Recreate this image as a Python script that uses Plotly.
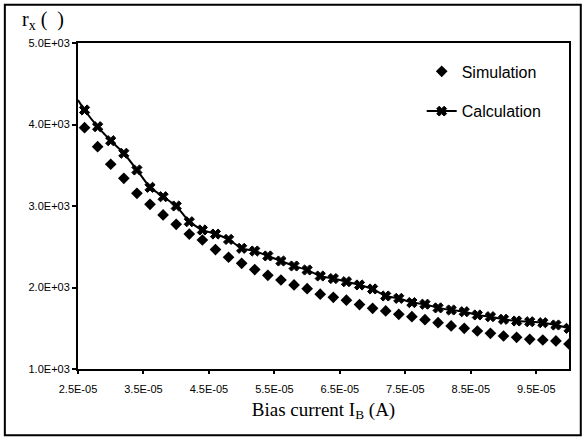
import plotly.graph_objects as go

# Bias current (A)
x_sim = [2.6e-5, 2.8e-5, 3.0e-5, 3.2e-5, 3.4e-5, 3.6e-5, 3.8e-5, 4.0e-5, 4.2e-5, 4.4e-5,
         4.6e-5, 4.8e-5, 5.0e-5, 5.2e-5, 5.4e-5, 5.6e-5, 5.8e-5, 6.0e-5, 6.2e-5, 6.4e-5,
         6.6e-5, 6.8e-5, 7.0e-5, 7.2e-5, 7.4e-5, 7.6e-5, 7.8e-5, 8.0e-5, 8.2e-5, 8.4e-5,
         8.6e-5, 8.8e-5, 9.0e-5, 9.2e-5, 9.4e-5, 9.6e-5, 9.8e-5, 1.0e-4]
sim = [3961, 3728, 3512, 3340, 3156, 3021, 2890, 2775, 2656, 2583,
       2465, 2371, 2297, 2220, 2150, 2092, 2031, 1985, 1918, 1880,
       1845, 1790, 1745, 1712, 1671, 1642, 1605, 1568, 1528, 1499,
       1466, 1438, 1405, 1389, 1364, 1356, 1344, 1307]

x_calc = [2.5e-5, 2.6e-5, 2.8e-5, 3.0e-5, 3.2e-5, 3.4e-5, 3.6e-5, 3.8e-5, 4.0e-5, 4.2e-5, 4.4e-5,
          4.6e-5, 4.8e-5, 5.0e-5, 5.2e-5, 5.4e-5, 5.6e-5, 5.8e-5, 6.0e-5, 6.2e-5, 6.4e-5,
          6.6e-5, 6.8e-5, 7.0e-5, 7.2e-5, 7.4e-5, 7.6e-5, 7.8e-5, 8.0e-5, 8.2e-5, 8.4e-5,
          8.6e-5, 8.8e-5, 9.0e-5, 9.2e-5, 9.4e-5, 9.6e-5, 9.8e-5, 1.0e-4]
calc = [4300, 4178, 3973, 3801, 3647, 3442, 3229, 3114, 3000, 2807, 2706,
        2656, 2590, 2481, 2448, 2387, 2325, 2264, 2215, 2141, 2110,
        2071, 2031, 1982, 1896, 1867, 1815, 1795, 1750, 1724, 1703,
        1663, 1642, 1610, 1589, 1580, 1568, 1540, 1499]

x_tickvals = [2.5e-5, 3.5e-5, 4.5e-5, 5.5e-5, 6.5e-5, 7.5e-5, 8.5e-5, 9.5e-5]
x_ticktext = ["2.5E-05", "3.5E-05", "4.5E-05", "5.5E-05", "6.5E-05", "7.5E-05", "8.5E-05", "9.5E-05"]
y_tickvals = [1000, 2000, 3000, 4000, 5000]
y_ticktext = ["1.0E+03", "2.0E+03", "3.0E+03", "4.0E+03", "5.0E+03"]

calc_marker_sizes = [0] + [9] * (len(calc) - 1)

fig = go.Figure()
fig.add_trace(go.Scatter(
    x=x_sim, y=sim, mode="markers", name="Simulation",
    legendgroup="a",
    marker=dict(symbol="diamond", size=9, color="black", opacity=1),
))
fig.add_trace(go.Scatter(
    x=x_calc, y=calc, mode="lines+markers", name="Calculation",
    legendgroup="b",
    line=dict(color="black", width=2, shape="spline", smoothing=0.5),
    marker=dict(symbol="x", size=calc_marker_sizes, color="black", opacity=1,
                line=dict(color="black", width=1)),
))

axis_font = dict(family="Liberation Sans, Arial, sans-serif", size=11, color="black")

fig.update_xaxes(
    range=[2.5e-5, 1.0e-4], tickvals=x_tickvals, ticktext=x_ticktext,
    showline=True, linecolor="black", linewidth=2, mirror=True,
    ticks="outside", ticklen=3, tickwidth=1.5, tickcolor="black",
    tickfont=axis_font, showgrid=False, zeroline=False,
    ticklabelstandoff=6,
    title=dict(text="Bias current I<sub>B</sub> (A)",
               font=dict(family="Liberation Serif, Times New Roman, serif", size=19, color="black"),
               standoff=8),
)
fig.update_yaxes(
    range=[1000, 5000], tickvals=y_tickvals, ticktext=y_ticktext,
    showline=True, linecolor="black", linewidth=2, mirror=True,
    ticks="outside", ticklen=4, tickwidth=1.5, tickcolor="black",
    tickfont=axis_font, showgrid=False, zeroline=False,
)

fig.add_annotation(
    xref="paper", yref="paper", x=-0.118, y=1.025, xanchor="left", yanchor="bottom",
    text="r<sub>x</sub> (  )", showarrow=False,
    font=dict(family="Liberation Serif, Times New Roman, serif", size=20, color="black"),
)

# outer frame around the whole chart
fig.add_shape(type="rect", xref="paper", yref="paper",
              x0=-0.149, x1=1.024, y0=-0.203, y1=1.117,
              line=dict(color="black", width=2))

fig.update_layout(
    width=584, height=438,
    margin=dict(l=78, r=15, t=43, b=69),
    paper_bgcolor="white", plot_bgcolor="white",
    showlegend=True,
    legend=dict(x=0.70, y=0.965, xanchor="left", yanchor="top",
                bgcolor="rgba(0,0,0,0)", traceorder="grouped", tracegroupgap=16,
                font=dict(family="Liberation Sans, Arial, sans-serif", size=16, color="black")),
)

fig.write_html("out.html", config={"displayModeBar": False},
               post_script="document.body.style.margin='0';")
